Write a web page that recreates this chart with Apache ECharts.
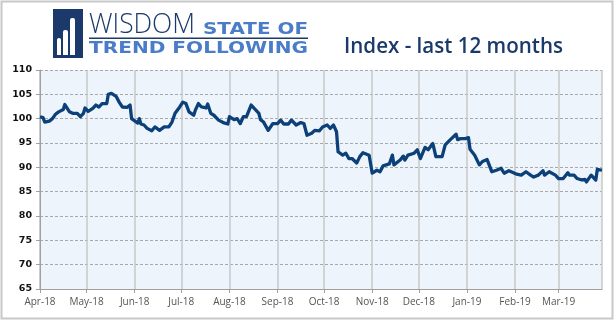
<!DOCTYPE html>
<html>
<head>
<meta charset="utf-8">
<script src="https://cdn.jsdelivr.net/npm/echarts@6/dist/echarts.min.js"></script>
<style>
html,body{margin:0;padding:0;background:#fff;}
#c{width:615px;height:322px;}
</style>
</head>
<body>
<div id="c"></div>
<script>
var titleText = 'Index - last 12 months';
var yTicks = {min: 65, max: 110, step: 5};
var xRange = {start: '2018-04-01', end: '2019-03-29'};
var monthNames = ['Jan','Feb','Mar','Apr','May','Jun','Jul','Aug','Sep','Oct','Nov','Dec'];

var dates = ['2018-04-01','2018-04-03','2018-04-04','2018-04-07','2018-04-09','2018-04-11','2018-04-13','2018-04-16','2018-04-17','2018-04-18','2018-04-20','2018-04-22','2018-04-25','2018-04-27','2018-04-29','2018-04-30',
'2018-05-02','2018-05-05','2018-05-07','2018-05-08','2018-05-09','2018-05-11','2018-05-14','2018-05-15','2018-05-17','2018-05-20','2018-05-22','2018-05-24','2018-05-27','2018-05-29','2018-05-30','2018-05-31',
'2018-06-03','2018-06-04','2018-06-05','2018-06-07','2018-06-09','2018-06-12','2018-06-14','2018-06-17','2018-06-20','2018-06-21','2018-06-23','2018-06-25','2018-06-27','2018-06-28','2018-06-30',
'2018-07-02','2018-07-04','2018-07-06','2018-07-09','2018-07-10','2018-07-12','2018-07-14','2018-07-17','2018-07-18','2018-07-20','2018-07-22','2018-07-25','2018-07-28','2018-07-31',
'2018-08-01','2018-08-04','2018-08-06','2018-08-08','2018-08-10','2018-08-12','2018-08-15','2018-08-17','2018-08-20','2018-08-21','2018-08-23','2018-08-26','2018-08-29',
'2018-09-01','2018-09-03','2018-09-05','2018-09-08','2018-09-10','2018-09-13','2018-09-16','2018-09-18','2018-09-20','2018-09-23','2018-09-25','2018-09-28','2018-09-30',
'2018-10-01','2018-10-03','2018-10-05','2018-10-07','2018-10-09','2018-10-10','2018-10-13','2018-10-15','2018-10-17','2018-10-19','2018-10-22','2018-10-24','2018-10-26','2018-10-30',
'2018-11-01','2018-11-04','2018-11-06','2018-11-08','2018-11-12','2018-11-14','2018-11-15','2018-11-19','2018-11-21','2018-11-22','2018-11-24','2018-11-28','2018-11-30',
'2018-12-02','2018-12-05','2018-12-07','2018-12-10','2018-12-12','2018-12-16','2018-12-18','2018-12-21','2018-12-25','2018-12-26','2018-12-28','2018-12-31',
'2019-01-02','2019-01-03','2019-01-06','2019-01-09','2019-01-11','2019-01-14','2019-01-17','2019-01-20','2019-01-23','2019-01-25','2019-01-28','2019-01-31',
'2019-02-02','2019-02-05','2019-02-08','2019-02-11','2019-02-13','2019-02-16','2019-02-19','2019-02-20','2019-02-23','2019-02-27',
'2019-03-01','2019-03-04','2019-03-07','2019-03-08','2019-03-11','2019-03-13','2019-03-16','2019-03-18','2019-03-19','2019-03-22','2019-03-25','2019-03-26','2019-03-29'];

var values = [100.4,100.2,99.3,99.5,100.0,100.9,101.4,101.9,102.9,103.1,101.4,101.1,101.1,100.4,101.1,102.2,
101.5,102.1,102.8,103.2,102.4,103.1,103.1,105.0,105.2,104.6,103.4,102.4,102.3,102.8,100.0,99.8,
99.1,100.0,98.9,98.7,98.0,97.5,98.3,97.6,98.3,98.7,98.3,99.3,101.1,101.4,102.4,
103.4,103.1,101.4,100.7,101.7,103.1,102.4,102.2,103.0,101.1,100.7,99.7,99.2,98.9,
100.4,99.8,100.0,99.0,100.4,100.4,102.8,102.1,101.1,99.8,99.3,97.6,99.0,
99.0,99.7,98.9,98.9,99.7,98.7,99.2,99.0,96.6,97.0,97.6,97.5,98.3,
98.0,98.7,98.0,98.7,97.3,93.2,92.5,92.9,91.8,91.8,90.9,92.2,93.0,92.5,
88.8,89.4,89.1,90.3,90.7,92.5,90.5,91.5,92.3,91.5,92.5,92.9,93.6,
91.8,94.1,93.6,94.9,92.2,92.2,94.6,95.6,96.8,95.7,95.9,95.9,
96.1,93.7,92.5,90.5,91.2,91.6,89.1,89.4,89.8,88.8,89.3,88.9,
88.6,88.4,89.1,88.4,88.0,88.4,89.3,88.4,89.1,88.4,
87.7,87.7,88.9,88.4,88.4,87.7,87.4,87.5,87.0,88.4,87.4,89.6,89.4];

var seriesData = dates.map(function (d, i) { return [d, values[i]]; });

var measureCtx = document.createElement('canvas').getContext('2d');
function fitScale(text, font, width) {
  measureCtx.font = font;
  return width / measureCtx.measureText(text).width;
}
function stretchedText(text, font, color, x, y, width) {
  return {
    type: 'text', x: x, y: y, scaleX: fitScale(text, font, width), originX: 0, originY: 0,
    style: { text: text, font: font, fill: color, textAlign: 'left', textVerticalAlign: 'middle', x: 0, y: 0 }
  };
}

var navy = '#1B3A6B';
var blue = '#4A7CC8';
var fWisdom = '300 28px "Open Sans"';
var fBold = 'bold 16px "DejaVu Sans"';
var fTitle = '600 21px "Open Sans"';

var chart = echarts.init(document.getElementById('c'), null, {renderer: 'canvas'});
chart.setOption({
  animation: false,
  backgroundColor: '#ffffff',
  graphic: [
    { type: 'rect', shape: { x: 1.5, y: 1.5, width: 611, height: 317 }, style: { fill: 'none', stroke: '#c8c8c8', lineWidth: 2 }, silent: true },
    { type: 'rect', shape: { x: 53, y: 9, width: 30, height: 49 }, style: { fill: navy } },
    { type: 'rect', shape: { x: 57, y: 38, width: 4, height: 17, r: [2, 2, 0, 0] }, style: { fill: '#fff' } },
    { type: 'rect', shape: { x: 63, y: 30, width: 5, height: 25, r: [2, 2, 0, 0] }, style: { fill: '#fff' } },
    { type: 'rect', shape: { x: 70, y: 18, width: 5, height: 37, r: [2, 2, 0, 0] }, style: { fill: '#fff' } },
    stretchedText('WISDOM', fWisdom, navy, 89, 25, 106),
    stretchedText('STATE OF', fBold, blue, 203, 29.5, 105),
    { type: 'rect', shape: { x: 89, y: 37.5, width: 219, height: 1.5 }, style: { fill: navy } },
    stretchedText('TREND FOLLOWING', fBold, blue, 89, 49, 219),
    stretchedText(titleText, fTitle, navy, 344, 47.5, 219)
  ],
  grid: {
    left: 40, right: 13, top: 70, bottom: 33,
    show: true, backgroundColor: '#EEF4FC', borderWidth: 0
  },
  xAxis: {
    type: 'time',
    min: xRange.start, max: xRange.end,
    splitNumber: 12,
    minInterval: 28 * 86400000,
    maxInterval: 31 * 86400000,
    axisLine: { show: true, lineStyle: { color: '#a0a0a0', width: 1 } },
    axisTick: { show: true, length: 4, lineStyle: { color: '#a0a0a0' } },
    splitLine: { show: true, lineStyle: { color: '#c8c8c8', width: 1.5 } },
    axisLabel: {
      color: '#555', fontSize: 10, fontFamily: 'Open Sans', margin: 8,
      showMaxLabel: false, hideOverlap: false,
      formatter: function (v) {
        var d = new Date(v);
        return monthNames[d.getMonth()] + '-' + String(d.getFullYear()).slice(2);
      }
    }
  },
  yAxis: {
    type: 'value', min: yTicks.min, max: yTicks.max, interval: yTicks.step,
    axisLine: { show: true, lineStyle: { color: '#a0a0a0', width: 1 } },
    axisTick: { show: true, length: 4, lineStyle: { color: '#a0a0a0' } },
    splitLine: { show: true, lineStyle: { color: '#a8a8a8', type: [3, 2], width: 1 } },
    axisLabel: { color: '#111', fontSize: 9.5, fontWeight: 'bold', fontFamily: 'DejaVu Sans', margin: 8 }
  },
  series: [{
    type: 'line', data: seriesData, showSymbol: false, symbol: 'none',
    lineStyle: { color: '#0B4078', width: 3.3, join: 'round' }
  }]
});
</script>
</body>
</html>
